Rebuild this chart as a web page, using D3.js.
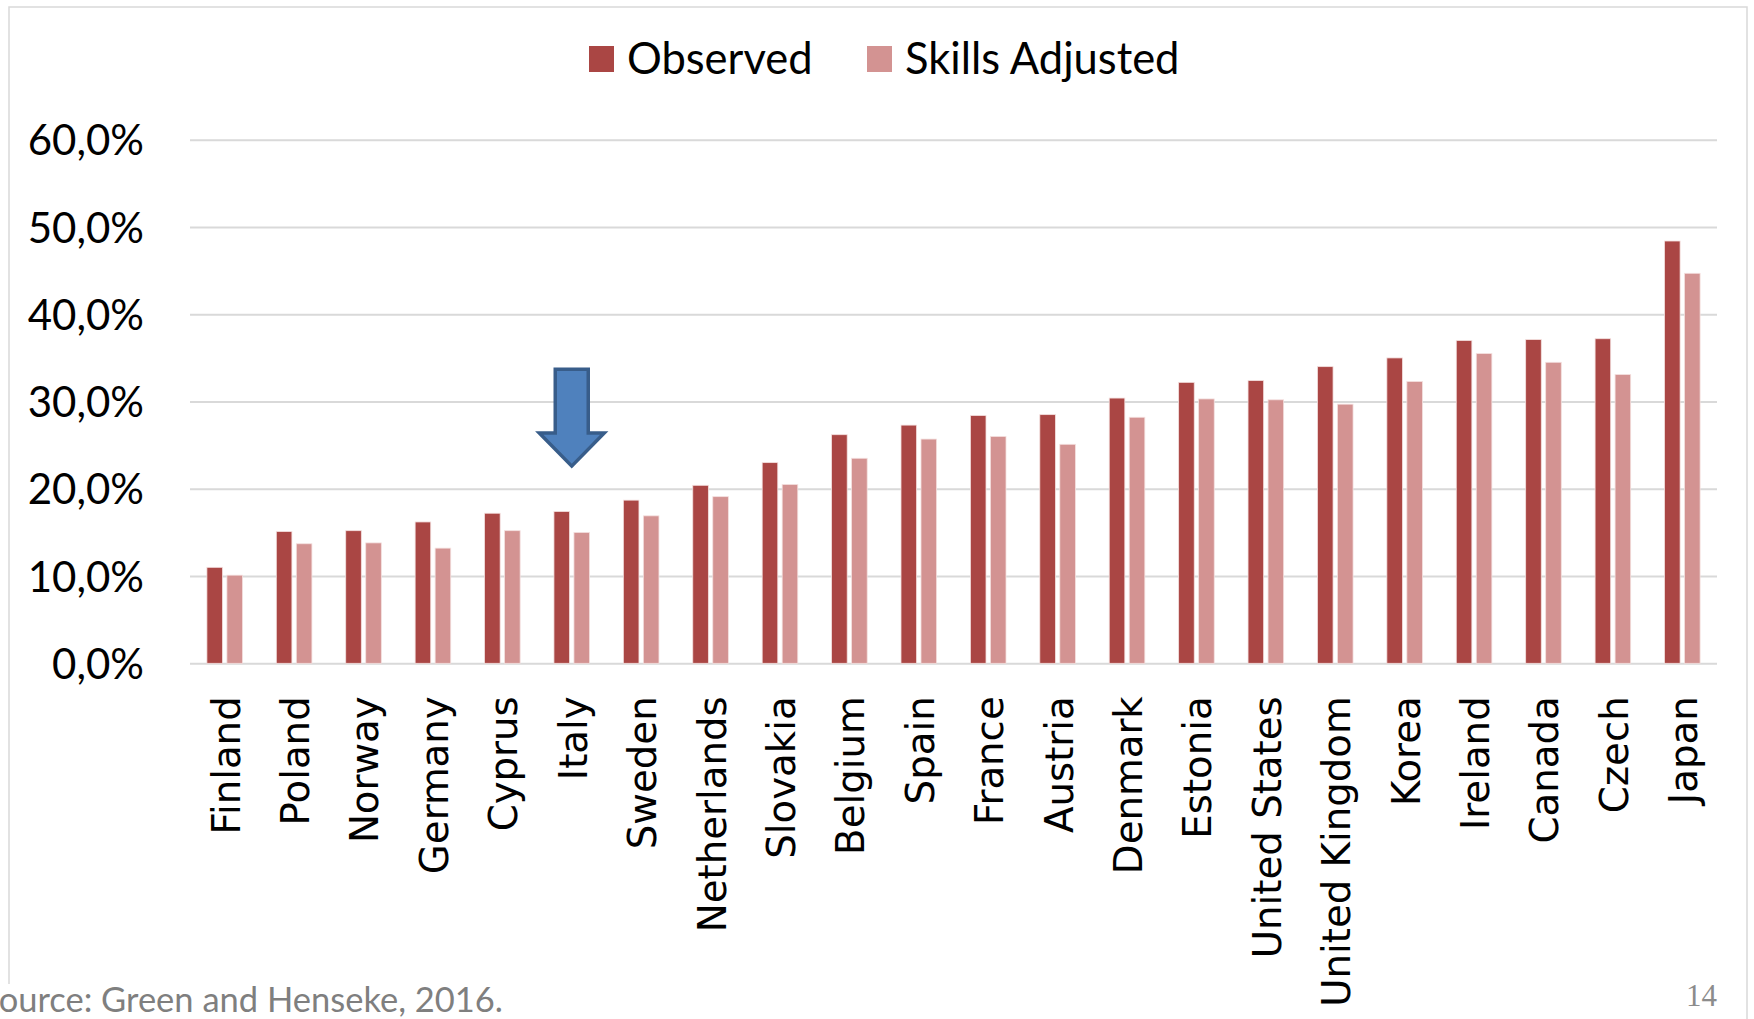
<!DOCTYPE html>
<html>
<head>
<meta charset="utf-8">
<script src="https://cdn.jsdelivr.net/npm/d3@7"></script>
<style>
  html, body { margin: 0; padding: 0; background: #ffffff; }
  svg { display: block; }
</style>
</head>
<body>
<svg id="chart" width="1754" height="1019"></svg>
<script>
// ---- data ----
const categories = ["Finland","Poland","Norway","Germany","Cyprus","Italy","Sweden","Netherlands","Slovakia","Belgium","Spain","France","Austria","Denmark","Estonia","United States","United Kingdom","Korea","Ireland","Canada","Czech","Japan"];
const observed = [0.110,0.151,0.152,0.162,0.172,0.174,0.187,0.204,0.230,0.262,0.273,0.284,0.285,0.304,0.322,0.324,0.340,0.350,0.370,0.371,0.372,0.484];
const skillsAdjusted = [0.101,0.137,0.138,0.132,0.152,0.150,0.169,0.191,0.205,0.235,0.257,0.260,0.251,0.282,0.303,0.302,0.297,0.323,0.355,0.345,0.331,0.447];
const seriesNames = ["Observed","Skills Adjusted"];
const yTicks = [0,0.1,0.2,0.3,0.4,0.5,0.6];
const highlightCategory = "Italy";
const arrowValues = [0.337, 0.264, 0.226]; // top of shaft, start of head, tip
const sourceText = "Source: Green and Henseke, 2016.";
const pageNumber = "14";

// ---- layout ----
const W = 1754, H = 1019;
const plot = { left: 190, right: 1717, top: 139.8, bottom: 663.3 };
const colors = ["#AA4644", "#D39392"];
const svg = d3.select("#chart");

const locale = d3.formatLocale({decimal: ",", thousands: ".", grouping: [3], currency: ["", "€"]});
const pct = locale.format(".1%");

const x = d3.scaleBand().domain(categories).range([plot.left, plot.right]).padding(0);
const y = d3.scaleLinear().domain([0, 0.6]).range([plot.bottom, plot.top]);
const barW = 15.6, gap = 4.4;
const sub = d3.scaleOrdinal().domain(seriesNames).range([-(gap/2 + barW), gap/2]);

// frame
svg.append("path")
  .attr("d", `M9,${H-35} L9,7 L1747,7 L1747,${H}`)
  .attr("fill", "none").attr("stroke", "#d9d9d9").attr("stroke-width", 1.5);

// gridlines + y labels
const yAxis = d3.axisLeft(y).tickValues(yTicks).tickFormat(pct).tickSize(-(plot.right - plot.left)).tickPadding(46);
const gy = svg.append("g").attr("transform", `translate(${plot.left},0)`).call(yAxis);
gy.select(".domain").remove();
gy.selectAll(".tick line").attr("stroke", "#d9d9d9").attr("stroke-width", 2);
gy.selectAll(".tick text")
  .attr("font-family", "Lato, 'Open Sans', sans-serif")
  .attr("font-size", 42).attr("fill", "#000").attr("dy", "0.36em");

// bars
const rows = categories.map((c, i) => ({c, vals: [observed[i], skillsAdjusted[i]]}));
const groups = svg.append("g").selectAll("g").data(rows).join("g")
  .attr("transform", d => `translate(${x(d.c) + x.bandwidth()/2},0)`);
groups.selectAll("rect").data(d => d.vals.map((v, k) => ({v, k})))
  .join("rect")
  .attr("x", d => sub(seriesNames[d.k]))
  .attr("width", barW)
  .attr("y", d => y(d.v))
  .attr("height", d => y(0) - y(d.v))
  .attr("fill", d => colors[d.k])
  .attr("stroke", "#f4e0df").attr("stroke-width", 0.8);

// x labels
const xAxis = d3.axisBottom(x).tickSize(0).tickPadding(0);
const gx = svg.append("g").attr("transform", `translate(0,${plot.bottom})`).call(xAxis);
gx.select(".domain").remove();
gx.selectAll(".tick text")
  .attr("font-family", "'DejaVu Sans', sans-serif")
  .attr("font-size", 38.7).attr("fill", "#000")
  .attr("text-anchor", "end")
  .attr("transform", "translate(1,33) rotate(-90)")
  .attr("x", 0).attr("y", 0).attr("dy", "0.36em");

// arrow annotation over highlighted category
const ax = x(highlightCategory) + x.bandwidth()/2;
const [aTop, aNeck, aTip] = arrowValues.map(v => y(v));
const sw = 16.5, hw = 32.5;
svg.append("path")
  .attr("d", `M${ax-sw},${aTop} L${ax+sw},${aTop} L${ax+sw},${aNeck} L${ax+hw},${aNeck} L${ax},${aTip} L${ax-hw},${aNeck} L${ax-sw},${aNeck} Z`)
  .attr("fill", "#4F81BD").attr("stroke", "#385D8A").attr("stroke-width", 3.5).attr("stroke-linejoin", "miter");

// legend
const legend = svg.append("g").attr("font-family", "Lato, 'Open Sans', sans-serif").attr("font-size", 43.5);
const legendX = [589, 867];
seriesNames.forEach((n, i) => {
  legend.append("rect").attr("x", legendX[i]).attr("y", 46).attr("width", 25).attr("height", 26).attr("fill", colors[i]);
  legend.append("text").attr("x", legendX[i] + 38).attr("y", 74).attr("fill", "#000").text(n);
});

// source + page number
svg.append("text").attr("x", 503).attr("y", 1012).attr("text-anchor", "end")
  .attr("font-family", "Lato, 'Open Sans', sans-serif").attr("font-size", 34.5).attr("fill", "#7f7f7f")
  .text(sourceText);
svg.append("text").attr("x", 1717).attr("y", 1006).attr("text-anchor", "end")
  .attr("font-family", "'Liberation Serif', serif").attr("font-size", 31).attr("fill", "#8c8c8c")
  .text(pageNumber);
</script>
</body>
</html>
